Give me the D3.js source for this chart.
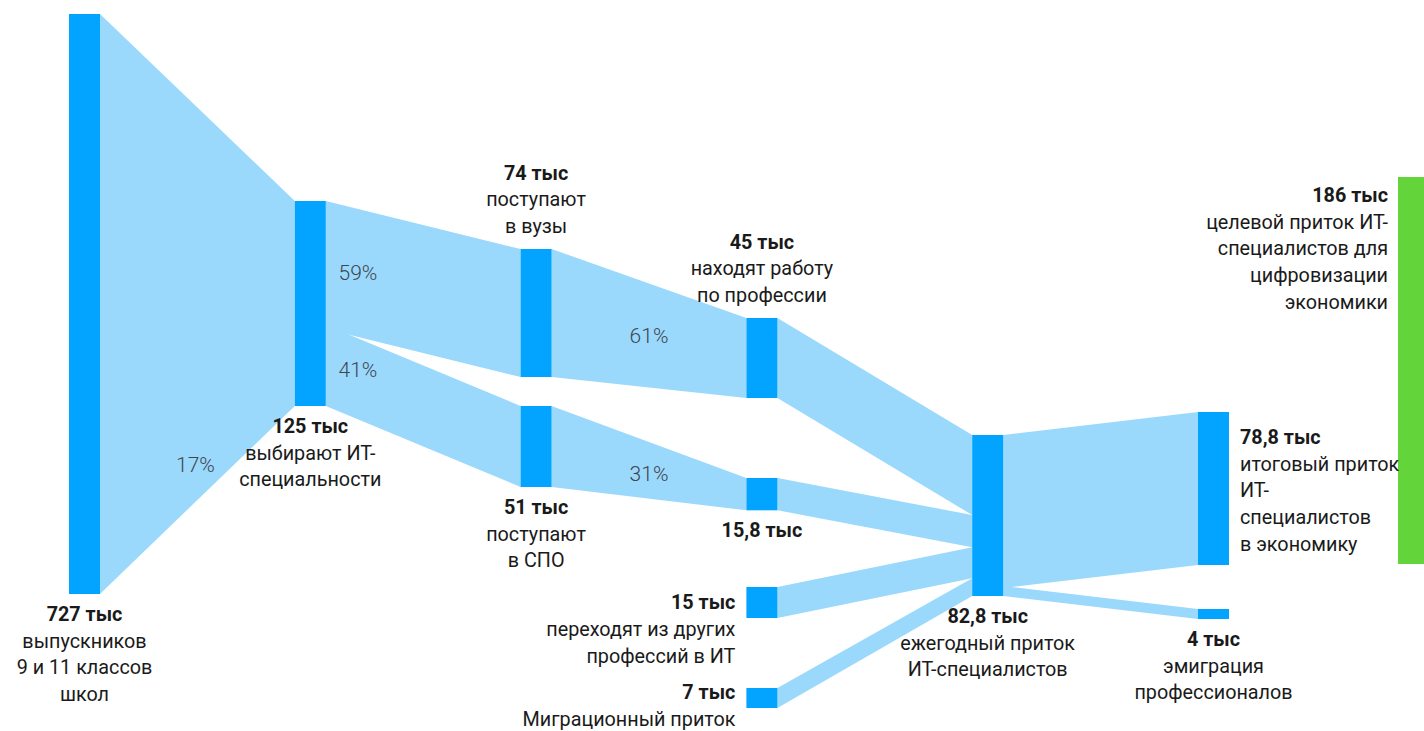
<!DOCTYPE html>
<html><head><meta charset="utf-8">
<script src="https://cdn.jsdelivr.net/npm/d3@7"></script>
<style>
html,body{margin:0;padding:0;background:#fff;}
svg{display:block;font-family:Roboto,"Noto Sans",sans-serif;}
</style></head>
<body>
<svg id="chart" width="1424" height="731"></svg>
<script>
// ---------- DATA ----------
const nodeIds = ["grad","it","vuz","spo","job","spoJob","switch","migr","inflow","net","emig"];
const nodeValues = [727, 125, 74, 51, 45, 15.8, 15, 7, 82.8, 78.8, 4];
const nodeDescriptions = [
  ["выпускников","9 и 11 классов","школ"],
  ["выбирают ИТ-","специальности"],
  ["поступают","в вузы"],
  ["поступают","в СПО"],
  ["находят работу","по профессии"],
  [],
  ["переходят из других","профессий в ИТ"],
  ["Миграционный приток"],
  ["ежегодный приток","ИТ-специалистов"],
  ["итоговый приток","ИТ-","специалистов","в экономику"],
  ["эмиграция","профессионалов"]
];
const linkSources = ["grad","it","it","vuz","spo","job","spoJob","switch","migr","inflow","inflow"];
const linkTargets = ["it","vuz","spo","job","spoJob","inflow","inflow","inflow","inflow","net","emig"];
const linkShowShare = [true,true,true,true,true,false,false,false,false,false,false];
const goalValue = 186;
const goalDescription = ["целевой приток ИТ-","специалистов для","цифровизации","экономики"];

// ---------- LAYOUT (positions / styles) ----------
const nodeColumn = [0,1,2,2,3,3,3,3,4,5,5];
const nodeTop    = [14,201,249,406,318,478,587,688,435,412,609];
const labelSide  = ["below","below","above","below","above","below","left","left","below","right","below"];
// share label placement along link: [t along x, fraction across width]
const shareLabelPos = [[0.49,0.905],[0.165,0.5],[0.165,0.39],[0.5,0.5],[0.5,0.55]];
const goalTop = 177;

const W = 1424, H = 731;
const nodeW = 31, goalW = 26, goalX = 1398;
const lineH = 26.7;
const fontSize = 19.8;
const colorNode = "#03a4ff", colorLink = "#9bd9fc", colorGoal = "#63d53b";
const colorText = "#1a1a1a", colorShare = "#3d4650";

const xCol = d3.scaleLinear().domain([0,5]).range([69,1198]);
// designer's value -> bar height mapping (not strictly proportional)
const hScale = d3.scaleLinear()
  .domain([0, 4, 7, 15, 45, 51, 74, 78.8, 82.8, 125, 186, 727])
  .range([0, 10, 20, 31, 80, 81, 128, 153, 161, 205, 387, 580]);

const fmt = v => String(v).replace(".", ",") + " тыс";

const nodes = nodeIds.map((id,i)=>{
  const x0 = xCol(nodeColumn[i]);
  const y0 = nodeTop[i];
  const h = hScale(nodeValues[i]);
  return {id, i, value:nodeValues[i], x0, x1:x0+nodeW, y0, y1:y0+h, h,
          desc:nodeDescriptions[i], side:labelSide[i], out:[], inc:[]};
});
const byId = Object.fromEntries(nodes.map(n=>[n.id,n]));
const links = linkSources.map((s,i)=>{
  const l = {i, source:byId[s], target:byId[linkTargets[i]], show:linkShowShare[i]};
  l.source.out.push(l); l.target.inc.push(l);
  return l;
});
nodes.forEach(n=>{
  if (n.out.length===1){ n.out[0].s0=n.y0; n.out[0].s1=n.y1; }
  else if (n.out.length>1){
    n.out.forEach((l,k)=>{
      const w = l.target.h;
      if (k===n.out.length-1){ l.s1=n.y1; l.s0=n.y1-w; }
      else { const start = k===0 ? n.y0 : n.out[k-1].s1; l.s0=start; l.s1=start+w; }
    });
  }
  if (n.inc.length===1){ n.inc[0].t0=n.y0; n.inc[0].t1=n.y1; }
  else if (n.inc.length>1){
    let y=n.y0;
    n.inc.forEach(l=>{ const w=l.source.h; l.t0=y; l.t1=Math.min(y+w,n.y1); y+=w; });
  }
});

const svg = d3.select("#chart");

const lineGen = d3.line();
svg.append("g").selectAll("path").data(links).join("path")
  .attr("d", l=>{
    const sx=l.source.x1, tx=l.target.x0;
    return lineGen([[sx,l.s0],[tx,l.t0],[tx,l.t1],[sx,l.s1]])+"Z";
  })
  .attr("fill", colorLink);

svg.append("g").selectAll("rect").data(nodes).join("rect")
  .attr("x", d=>d.x0).attr("y", d=>d.y0)
  .attr("width", nodeW).attr("height", d=>d.h)
  .attr("fill", colorNode);

svg.append("rect").attr("x", goalX).attr("y", goalTop)
  .attr("width", goalW).attr("height", hScale(goalValue)).attr("fill", colorGoal);

const pctFmt = d3.format(".0%");
const shareLinks = links.filter(l=>l.show);
svg.append("g").selectAll("text").data(shareLinks).join("text")
  .attr("x", (l,k)=>{ const t=shareLabelPos[k][0]; return l.source.x1 + t*(l.target.x0-l.source.x1); })
  .attr("y", (l,k)=>{
    const [t,f]=shareLabelPos[k];
    const top = l.s0 + t*(l.t0-l.s0), bot = l.s1 + t*(l.t1-l.s1);
    return top + f*(bot-top);
  })
  .attr("dy","0.35em").attr("text-anchor","middle")
  .attr("font-size",21).attr("font-weight",300).attr("fill",colorShare)
  .text(l=>pctFmt(l.target.value/l.source.value));

function drawLabel(g, lines, x, yFirst, anchor){
  const t = g.append("text").attr("text-anchor",anchor).attr("fill",colorText).attr("font-size",fontSize);
  lines.forEach((ln,k)=>{
    t.append("tspan").attr("x",x).attr("y",yFirst+k*lineH).attr("dy","0.35em")
      .attr("font-weight", k===0?700:400).text(ln);
  });
}
const labelG = svg.append("g");
nodes.forEach(n=>{
  const lines = [fmt(n.value), ...n.desc];
  const cx = (n.x0+n.x1)/2;
  if (n.side==="below") drawLabel(labelG, lines, cx, n.y1+20, "middle");
  else if (n.side==="above") drawLabel(labelG, lines, cx, n.y0-23-(lines.length-1)*lineH, "middle");
  else if (n.side==="left") drawLabel(labelG, lines, n.x0-11, (n.y0+n.y1)/2 - (n.h<25?6:0), "end");
  else if (n.side==="right") drawLabel(labelG, lines, n.x1+11, n.y0+25, "start");
});
drawLabel(labelG, [fmt(goalValue), ...goalDescription], goalX-10, goalTop+18, "end");
</script>
</body></html>
